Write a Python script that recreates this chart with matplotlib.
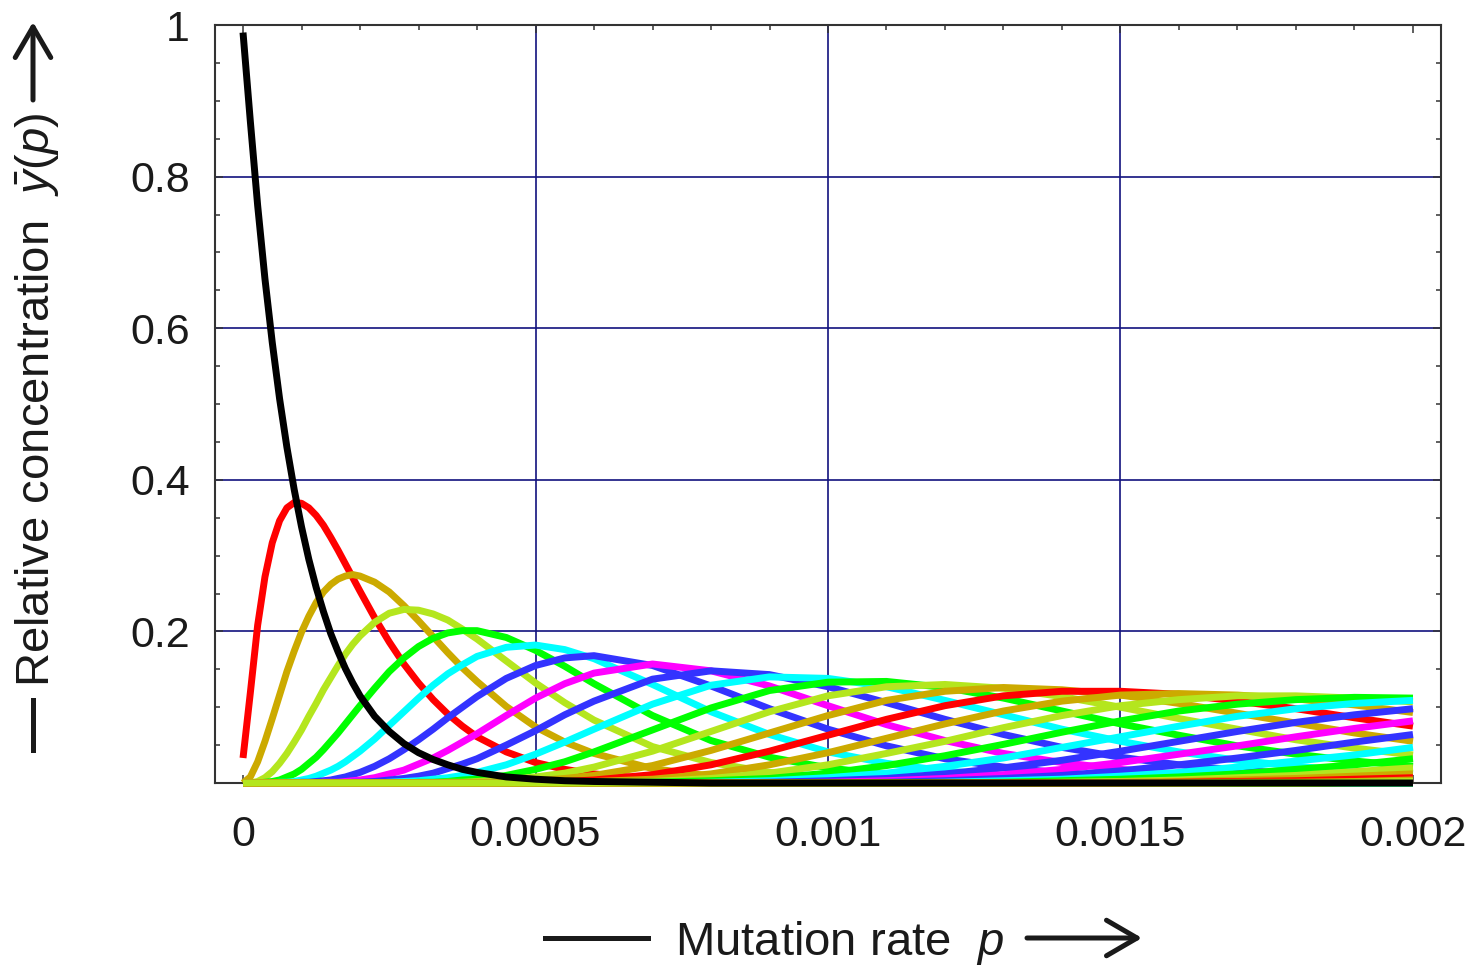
import matplotlib
matplotlib.use("Agg")
import matplotlib.pyplot as plt
from matplotlib.lines import Line2D
from matplotlib.ticker import MultipleLocator

plt.rcParams["font.family"] = ["Liberation Sans", "DejaVu Sans"]
plt.rcParams["mathtext.fontset"] = "custom"
plt.rcParams["mathtext.rm"] = "Liberation Sans"
plt.rcParams["mathtext.it"] = "Liberation Sans:italic"

# mutation rate samples
p = [0.0, 0.0000125, 0.000025, 0.0000375, 0.00005, 0.0000625, 0.000075, 0.0000875,
     0.0001, 0.0001125, 0.000125, 0.0001375, 0.00015, 0.0001625, 0.000175, 0.0001875,
     0.0002, 0.000225, 0.00025, 0.000275, 0.0003, 0.000325, 0.00035, 0.000375,
     0.0004, 0.00045, 0.0005, 0.00055, 0.0006, 0.0007, 0.0008, 0.0009, 0.001, 0.0011,
     0.0012, 0.0013, 0.0014, 0.0015, 0.0016, 0.0017, 0.0018, 0.0019, 0.002]

# relative concentration of error class k
y00 = [0.99, 0.873, 0.762, 0.665, 0.581, 0.507, 0.443, 0.387, 0.338, 0.295, 0.258,
       0.226, 0.197, 0.173, 0.151, 0.132, 0.115, 0.088, 0.068, 0.052, 0.040, 0.031,
       0.024, 0.018, 0.014, 0.008, 0.005, 0.003, 0.002, 0.001, 0, 0, 0, 0, 0, 0, 0,
       0, 0, 0, 0, 0, 0]
y01 = [0.033, 0.119, 0.208, 0.272, 0.317, 0.346, 0.363, 0.370, 0.369, 0.363, 0.353,
       0.340, 0.324, 0.307, 0.289, 0.271, 0.253, 0.218, 0.186, 0.157, 0.132, 0.110,
       0.091, 0.075, 0.061, 0.041, 0.027, 0.018, 0.012, 0.005, 0.002, 0.001, 0, 0, 0,
       0, 0, 0, 0, 0, 0, 0, 0]
y02 = [0, 0.008, 0.028, 0.055, 0.085, 0.116, 0.147, 0.174, 0.199, 0.220, 0.238,
       0.252, 0.262, 0.269, 0.273, 0.275, 0.273, 0.265, 0.252, 0.234, 0.214, 0.193,
       0.172, 0.152, 0.134, 0.101, 0.074, 0.054, 0.039, 0.019, 0.009, 0.004, 0.002,
       0.001, 0, 0, 0, 0, 0, 0, 0, 0, 0]
y03 = [0, 0, 0.002, 0.007, 0.015, 0.026, 0.039, 0.054, 0.070, 0.088, 0.105, 0.123,
       0.139, 0.155, 0.170, 0.183, 0.194, 0.212, 0.224, 0.229, 0.228, 0.223, 0.215,
       0.203, 0.190, 0.161, 0.132, 0.106, 0.083, 0.048, 0.027, 0.014, 0.007, 0.004,
       0.002, 0.001, 0.001, 0, 0, 0, 0, 0, 0]
y04 = [0, 0, 0, 0.001, 0.002, 0.004, 0.008, 0.012, 0.018, 0.026, 0.034, 0.044, 0.055,
       0.066, 0.078, 0.090, 0.102, 0.125, 0.147, 0.165, 0.180, 0.191, 0.198, 0.201,
       0.201, 0.192, 0.175, 0.154, 0.131, 0.089, 0.056, 0.034, 0.020, 0.011, 0.006,
       0.004, 0.002, 0.001, 0.001, 0, 0, 0, 0]
y05 = [0, 0, 0, 0, 0, 0.001, 0.001, 0.002, 0.004, 0.006, 0.009, 0.013, 0.017, 0.022,
       0.028, 0.035, 0.042, 0.058, 0.076, 0.094, 0.112, 0.129, 0.144, 0.156, 0.167,
       0.179, 0.182, 0.176, 0.164, 0.130, 0.094, 0.064, 0.041, 0.026, 0.016, 0.010,
       0.006, 0.003, 0.002, 0.001, 0.001, 0, 0]
y06 = [0, 0, 0, 0, 0, 0, 0, 0, 0.001, 0.001, 0.002, 0.003, 0.004, 0.006, 0.008, 0.011,
       0.014, 0.022, 0.032, 0.044, 0.057, 0.071, 0.086, 0.100, 0.114, 0.138, 0.155,
       0.165, 0.168, 0.155, 0.128, 0.098, 0.071, 0.049, 0.032, 0.021, 0.013, 0.008,
       0.005, 0.003, 0.002, 0.001, 0.001]
y07 = [0, 0, 0, 0, 0, 0, 0, 0, 0, 0, 0, 0.001, 0.001, 0.001, 0.002, 0.003, 0.004,
       0.007, 0.012, 0.017, 0.025, 0.033, 0.043, 0.054, 0.065, 0.089, 0.112, 0.131,
       0.145, 0.157, 0.148, 0.128, 0.102, 0.077, 0.056, 0.039, 0.027, 0.018, 0.012,
       0.008, 0.005, 0.003, 0.002]
y08 = [0, 0, 0, 0, 0, 0, 0, 0, 0, 0, 0, 0, 0, 0, 0, 0.001, 0.001, 0.002, 0.004,
       0.006, 0.009, 0.013, 0.019, 0.025, 0.032, 0.050, 0.069, 0.090, 0.108, 0.137,
       0.148, 0.143, 0.127, 0.106, 0.084, 0.064, 0.047, 0.034, 0.024, 0.017, 0.012,
       0.008, 0.006]
y09 = [0, 0, 0, 0, 0, 0, 0, 0, 0, 0, 0, 0, 0, 0, 0, 0, 0, 0, 0.001, 0.002, 0.003,
       0.005, 0.007, 0.010, 0.014, 0.024, 0.038, 0.054, 0.071, 0.104, 0.129, 0.140,
       0.138, 0.127, 0.109, 0.090, 0.071, 0.055, 0.041, 0.030, 0.022, 0.016, 0.012]
y10 = [0, 0, 0, 0, 0, 0, 0, 0, 0, 0, 0, 0, 0, 0, 0, 0, 0, 0, 0, 0, 0.001, 0.001,
       0.002, 0.004, 0.005, 0.010, 0.018, 0.028, 0.041, 0.070, 0.099, 0.122, 0.133,
       0.134, 0.126, 0.112, 0.095, 0.078, 0.063, 0.049, 0.038, 0.029, 0.022]
y11 = [0, 0, 0, 0, 0, 0, 0, 0, 0, 0, 0, 0, 0, 0, 0, 0, 0, 0, 0, 0, 0, 0, 0.001,
       0.001, 0.002, 0.004, 0.008, 0.013, 0.021, 0.042, 0.068, 0.094, 0.115, 0.127,
       0.130, 0.125, 0.114, 0.100, 0.085, 0.071, 0.057, 0.046, 0.037]
y12 = [0, 0, 0, 0, 0, 0, 0, 0, 0, 0, 0, 0, 0, 0, 0, 0, 0, 0, 0, 0, 0, 0, 0, 0,
       0.001, 0.001, 0.003, 0.006, 0.010, 0.023, 0.043, 0.066, 0.089, 0.109, 0.121,
       0.126, 0.123, 0.116, 0.105, 0.092, 0.079, 0.066, 0.055]
y13 = [0, 0, 0, 0, 0, 0, 0, 0, 0, 0, 0, 0, 0, 0, 0, 0, 0, 0, 0, 0, 0, 0, 0, 0, 0, 0,
       0.001, 0.002, 0.004, 0.011, 0.024, 0.042, 0.063, 0.084, 0.102, 0.115, 0.121,
       0.121, 0.117, 0.108, 0.098, 0.086, 0.075]
y14 = [0, 0, 0, 0, 0, 0, 0, 0, 0, 0, 0, 0, 0, 0, 0, 0, 0, 0, 0, 0, 0, 0, 0, 0, 0, 0,
       0, 0.001, 0.002, 0.005, 0.012, 0.024, 0.040, 0.059, 0.078, 0.095, 0.108, 0.116,
       0.118, 0.116, 0.111, 0.103, 0.093]
y15 = [0, 0, 0, 0, 0, 0, 0, 0, 0, 0, 0, 0, 0, 0, 0, 0, 0, 0, 0, 0, 0, 0, 0, 0, 0, 0,
       0, 0, 0.001, 0.002, 0.006, 0.013, 0.024, 0.039, 0.055, 0.073, 0.089, 0.102,
       0.110, 0.115, 0.115, 0.112, 0.107]
y16 = [0, 0, 0, 0, 0, 0, 0, 0, 0, 0, 0, 0, 0, 0, 0, 0, 0, 0, 0, 0, 0, 0, 0, 0, 0, 0,
       0, 0, 0, 0.001, 0.003, 0.006, 0.013, 0.023, 0.036, 0.051, 0.067, 0.082, 0.095,
       0.104, 0.110, 0.113, 0.112]
y17 = [0, 0, 0, 0, 0, 0, 0, 0, 0, 0, 0, 0, 0, 0, 0, 0, 0, 0, 0, 0, 0, 0, 0, 0, 0, 0,
       0, 0, 0, 0, 0.001, 0.003, 0.007, 0.013, 0.022, 0.033, 0.047, 0.061, 0.075,
       0.088, 0.098, 0.105, 0.109]
y18 = [0, 0, 0, 0, 0, 0, 0, 0, 0, 0, 0, 0, 0, 0, 0, 0, 0, 0, 0, 0, 0, 0, 0, 0, 0, 0,
       0, 0, 0, 0, 0, 0.001, 0.003, 0.006, 0.012, 0.020, 0.030, 0.042, 0.055, 0.068,
       0.080, 0.090, 0.098]
y19 = [0, 0, 0, 0, 0, 0, 0, 0, 0, 0, 0, 0, 0, 0, 0, 0, 0, 0, 0, 0, 0, 0, 0, 0, 0, 0,
       0, 0, 0, 0, 0, 0, 0.001, 0.003, 0.006, 0.011, 0.018, 0.027, 0.038, 0.049,
       0.061, 0.072, 0.082]
y20 = [0, 0, 0, 0, 0, 0, 0, 0, 0, 0, 0, 0, 0, 0, 0, 0, 0, 0, 0, 0, 0, 0, 0, 0, 0, 0,
       0, 0, 0, 0, 0, 0, 0, 0.001, 0.003, 0.006, 0.010, 0.016, 0.024, 0.033, 0.043,
       0.054, 0.064]
y21 = [0, 0, 0, 0, 0, 0, 0, 0, 0, 0, 0, 0, 0, 0, 0, 0, 0, 0, 0, 0, 0, 0, 0, 0, 0, 0,
       0, 0, 0, 0, 0, 0, 0, 0, 0.001, 0.003, 0.005, 0.009, 0.014, 0.021, 0.029, 0.037,
       0.047]
y22 = [0, 0, 0, 0, 0, 0, 0, 0, 0, 0, 0, 0, 0, 0, 0, 0, 0, 0, 0, 0, 0, 0, 0, 0, 0, 0,
       0, 0, 0, 0, 0, 0, 0, 0, 0, 0.001, 0.003, 0.005, 0.008, 0.012, 0.018, 0.024,
       0.032]
y23 = [0, 0, 0, 0, 0, 0, 0, 0, 0, 0, 0, 0, 0, 0, 0, 0, 0, 0, 0, 0, 0, 0, 0, 0, 0, 0,
       0, 0, 0, 0, 0, 0, 0, 0, 0, 0, 0.001, 0.002, 0.004, 0.007, 0.010, 0.015, 0.020]
y24 = [0, 0, 0, 0, 0, 0, 0, 0, 0, 0, 0, 0, 0, 0, 0, 0, 0, 0, 0, 0, 0, 0, 0, 0, 0, 0,
       0, 0, 0, 0, 0, 0, 0, 0, 0, 0, 0, 0.001, 0.002, 0.004, 0.006, 0.009, 0.012]
y25 = [0, 0, 0, 0, 0, 0, 0, 0, 0, 0, 0, 0, 0, 0, 0, 0, 0, 0, 0, 0, 0, 0, 0, 0, 0, 0,
       0, 0, 0, 0, 0, 0, 0, 0, 0, 0, 0, 0, 0.001, 0.002, 0.003, 0.005, 0.007]
y26 = [0, 0, 0, 0, 0, 0, 0, 0, 0, 0, 0, 0, 0, 0, 0, 0, 0, 0, 0, 0, 0, 0, 0, 0, 0, 0,
       0, 0, 0, 0, 0, 0, 0, 0, 0, 0, 0, 0, 0, 0.001, 0.001, 0.002, 0.004]
y27 = [0, 0, 0, 0, 0, 0, 0, 0, 0, 0, 0, 0, 0, 0, 0, 0, 0, 0, 0, 0, 0, 0, 0, 0, 0, 0,
       0, 0, 0, 0, 0, 0, 0, 0, 0, 0, 0, 0, 0, 0, 0, 0.001, 0.002]

RED, GOLD, LIME, GREEN = "#ff0000", "#ccaa00", "#b4e61e", "#00ff00"
CYAN, BLUE, MAGENTA = "#00ffff", "#3333ff", "#ff00ff"

classes = [y01, y02, y03, y04, y05, y06, y07, y08, y09, y10, y11, y12, y13, y14,
           y15, y16, y17, y18, y19, y20, y21, y22, y23, y24, y25, y26, y27]
class_colors = [RED, GOLD, LIME, GREEN, CYAN, BLUE, MAGENTA, BLUE, CYAN, GREEN, LIME,
                GOLD, RED, GOLD, LIME, GREEN, CYAN, BLUE, MAGENTA, BLUE, CYAN, GREEN,
                LIME, GOLD, RED, GOLD, LIME]

x_ticks = [0, 0.0005, 0.001, 0.0015, 0.002]
x_tick_labels = ["0", "0.0005", "0.001", "0.0015", "0.002"]
y_ticks = [0.2, 0.4, 0.6, 0.8, 1.0]
y_tick_labels = ["0.2", "0.4", "0.6", "0.8", "1"]

INK = "#1a1a1a"
GRID = "#12127e"
W, H = 1480, 966

fig = plt.figure(figsize=(W / 100, H / 100), dpi=100)
ax = fig.add_axes([215 / W, 1 - 783 / H, (1441 - 215) / W, (783 - 25) / H])

# grid only at inner ticks
for yv in y_ticks[:-1]:
    ax.axhline(yv, color=GRID, lw=1.2, zorder=1)
for xv in x_ticks[1:-1]:
    ax.axvline(xv, color=GRID, lw=1.2, zorder=1)

for vals, col in zip(classes, class_colors):
    ax.plot(p, vals, color=col, lw=5.0, solid_capstyle="butt",
            solid_joinstyle="round", clip_on=False, zorder=3)
ax.plot(p, y00, color="black", lw=5.0, solid_capstyle="butt",
        solid_joinstyle="round", clip_on=False, zorder=4)

ax.set_xlim(-0.0000479, 0.0020479)
ax.set_ylim(0, 1)
ax.set_xticks(x_ticks)
ax.set_xticklabels(x_tick_labels)
ax.set_yticks(y_ticks)
ax.set_yticklabels(y_tick_labels)
ax.xaxis.set_minor_locator(MultipleLocator(0.0001))
ax.yaxis.set_minor_locator(MultipleLocator(0.05))
ax.tick_params(which="both", direction="in", top=True, right=True,
               width=1.1, color="#333333", labelcolor=INK)
ax.tick_params(which="major", length=6, labelsize=31)
ax.tick_params(which="minor", length=3.6)
ax.tick_params(axis="x", which="major", pad=23)
ax.tick_params(axis="y", which="major", pad=18)
for sp in ax.spines.values():
    sp.set_linewidth(1.5)
    sp.set_color("#333333")

# axis titles with bar and arrow, like the original
fig.text(839 / W, 1 - 955 / H, "Mutation rate  $p$", ha="center", va="baseline",
         fontsize=34, color=INK)
fig.add_artist(Line2D([545 / W, 648 / W], [1 - 938 / H, 1 - 938 / H],
                      transform=fig.transFigure, color=INK, lw=3.6))
ax.annotate("", xy=(1142, H - 938), xytext=(1027, H - 938),
            xycoords="figure pixels", textcoords="figure pixels",
            arrowprops=dict(arrowstyle="->,head_length=0.55,head_width=0.32",
                            lw=3.6, color=INK, mutation_scale=40,
                            shrinkA=0, shrinkB=0))

fig.text(37 / W, 1 - 400 / H, "Relative concentration  $\\bar{y}(p)$", rotation=90,
         ha="center", va="center", fontsize=34, color=INK)
fig.add_artist(Line2D([33 / W, 33 / W], [1 - 700 / H, 1 - 750 / H],
                      transform=fig.transFigure, color=INK, lw=3.6))
ax.annotate("", xy=(33, H - 22), xytext=(33, H - 100),
            xycoords="figure pixels", textcoords="figure pixels",
            arrowprops=dict(arrowstyle="->,head_length=0.55,head_width=0.32",
                            lw=3.6, color=INK, mutation_scale=40,
                            shrinkA=0, shrinkB=0))

fig.savefig("out.png", dpi=100, facecolor="white")
